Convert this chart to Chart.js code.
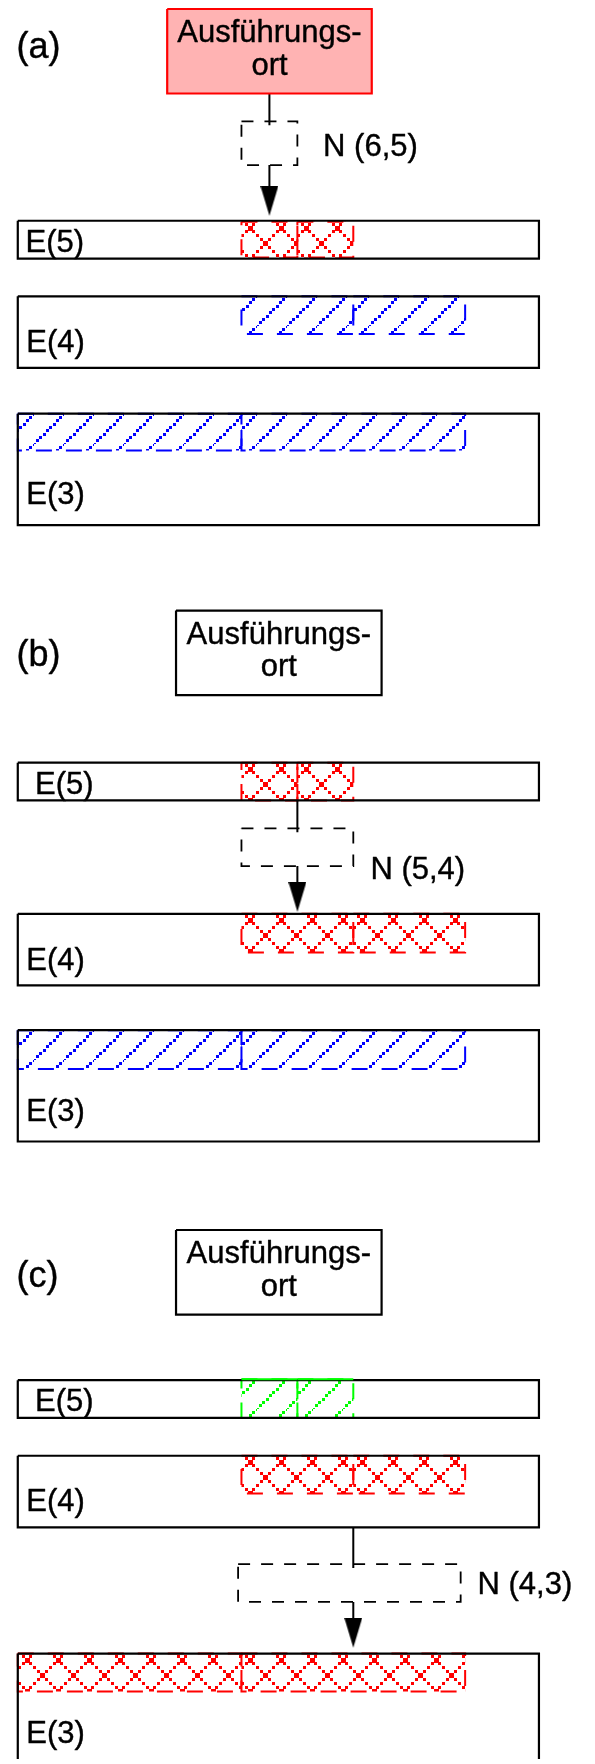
<!DOCTYPE html>
<html><head><meta charset="utf-8">
<script src="https://cdn.jsdelivr.net/npm/chart.js@4.4.1/dist/chart.umd.min.js"></script>
<style>html,body{margin:0;padding:0;background:#fff}canvas{display:block}</style>
</head><body>
<canvas id="c" width="595" height="1764" style="width:595px;height:1764px"></canvas>
<script>
// ---------- data (x in tile units of level E(4), y in figure units) ----------
const xDomain = [-0.1143, 5.1165];
const yDomain = [0, 1764];

const panelLabels = ['(a)', '(b)', '(c)'];
const panelLabelX = -0.012;
const panelLabelY = [53, 665, 1289];

const execLines = ['Ausführungs-', 'ort'];
const execBoxX = [[1.336, 3.165], [1.415, 3.253], [1.415, 3.253]];
const execBoxY = [[4, 89], [609, 694], [1232, 1317]];
const execActive = [true, false, false];

const levelNames = ['E(5)', 'E(4)', 'E(3)'];
const levelBoxX = [0, 4.66];
const levelBoxY = [
  [[217, 255], [293, 365], [411, 523]],
  [[762, 800], [914, 986], [1031, 1143]],
  [[1383, 1421], [1459, 1531], [1658, 1770]]
];
const levelLabelX = [[0.070, 0.076, 0.076], [0.155, 0.076, 0.076], [0.155, 0.076, 0.076]];
const levelLabelY = [[248, 349, 502], [793, 970, 1122], [1414, 1515, 1748]];

const levelTiles = [[[2, 2.5], [2.5, 3]], [[2, 3], [3, 4]], [[0, 2], [2, 4]]];
const hatchKind = [['cross', 'diag', 'diag'], ['cross', 'cross', 'diag'], ['diag', 'cross', 'cross']];
const hatchColor = [['red', 'blue', 'blue'], ['red', 'red', 'blue'], ['green', 'red', 'red']];
const hatchY = [
  [[218, 254], [293, 331], [411, 448]],
  [[762, 800], [914, 953], [1031, 1070]],
  [[1382, 1421], [1459, 1497], [1658, 1696]]
];
const hatchSolidTop = [[false, false, false], [false, false, false], [true, false, false]];

const transferLabels = ['N (6,5)', 'N (5,4)', 'N (4,3)'];
const transferBoxX = [[2, 2.5], [2, 3], [1.97, 3.96]];
const transferBoxY = [[117, 161], [828, 866], [1568, 1606]];
const transferAxis = [2.25, 2.5, 3.0];
const transferFromY = [89, 800, 1531];
const transferTipY = [212, 912, 1652];
const transferLabelX = [2.730, 3.153, 4.111];
const transferLabelY = [152, 879, 1598];

// ---------- styles ----------
const FONT = '"Liberation Sans", Arial, Helvetica, sans-serif';
const COL = { red: '#ff0000', blue: '#0000ff', green: '#00ff00', black: '#000000', pink: '#ffb3b3' };

function dot(g, x, y, s) { g.fillRect(Math.round(x - s / 2), Math.round(y - s / 2), s, s); }
const patternCanvases = {};
function patternCanvas(kind, color) {
  const key = kind + color;
  if (patternCanvases[key]) return patternCanvases[key];
  const P = kind === 'cross' ? 31 : 30;
  const c = document.createElement('canvas'); c.width = P; c.height = P;
  const g = c.getContext('2d'); g.fillStyle = COL[color];
  const n = kind === 'cross' ? 8 : 9;
  for (let i = 0; i <= n; i++) {
    const t = i * P / n;
    if (kind === 'cross') { dot(g, t, t, 3); dot(g, t, P - t, 3); }
    else dot(g, t, P - t, 3);
  }
  if (kind === 'cross') [[0, 0], [P, 0], [0, P], [P, P], [P / 2, P / 2]].forEach(([a, b]) => dot(g, a, b, 5));
  patternCanvases[key] = c;
  return c;
}
function tilePattern(kind, color, chart, x0, y0) {
  const pat = chart.ctx.createPattern(patternCanvas(kind, color), 'repeat');
  const sx = chart.scales && chart.scales.x, sy = chart.scales && chart.scales.y;
  if (sx && sy && pat.setTransform) {
    const off = kind === 'cross' ? [9, 6] : [16, 0];
    pat.setTransform(new DOMMatrix().translate(Math.round(sx.getPixelForValue(x0)) + off[0], Math.round(sy.getPixelForValue(y0)) + off[1]));
  }
  return pat;
}
const arrowCanvas = (() => {
  const c = document.createElement('canvas'); c.width = 18; c.height = 60;
  const g = c.getContext('2d'); g.fillStyle = '#000';
  g.beginPath(); g.moveTo(0, 0); g.lineTo(18, 0); g.lineTo(9, 30); g.closePath(); g.fill();
  return c;
})();

function rectPts(x0, x1, y0, y1) {
  return [{x: x0, y: y0}, {x: x1, y: y0}, {x: x1, y: y1}, {x: x0, y: y1}, {x: x0, y: y0}];
}

// ---------- datasets ----------
const datasets = [];
execBoxX.forEach((bx, p) => {
  datasets.push({
    data: rectPts(bx[0], bx[1], execBoxY[p][0], execBoxY[p][1]), showLine: true,
    borderColor: execActive[p] ? COL.red : COL.black, borderWidth: 2.2,
    backgroundColor: execActive[p] ? COL.pink : 'rgba(0,0,0,0)',
    fill: execActive[p] ? 'shape' : false, pointRadius: 0, order: 1
  });
});
levelBoxY.forEach((rows, p) => rows.forEach((r, l) => {
  datasets.push({
    data: rectPts(levelBoxX[0], levelBoxX[1], r[0], r[1]), showLine: true,
    borderColor: COL.black, borderWidth: 2.2, fill: false, pointRadius: 0, order: 1
  });
  levelTiles[l].forEach(t => {
    const kind = hatchKind[p][l], color = hatchColor[p][l], hy = hatchY[p][l];
    datasets.push({
      data: rectPts(t[0], t[1], hy[0], hy[1]), showLine: true,
      borderColor: COL[color], borderWidth: 2, borderDash: [16, 14],
      fill: 'shape', backgroundColor: (c) => tilePattern(kind, color, c.chart, t[0], hy[0]),
      pointRadius: 0, order: 3
    });
    if (hatchSolidTop[p][l]) {
      datasets.push({
        data: [{x: t[0], y: hy[0]}, {x: t[1], y: hy[0]}], showLine: true,
        borderColor: COL[color], borderWidth: 2, fill: false, pointRadius: 0, order: 0
      });
    }
  });
}));
transferBoxX.forEach((bx, p) => {
  const by = transferBoxY[p], ax = transferAxis[p];
  datasets.push({
    data: rectPts(bx[0], bx[1], by[0], by[1]), showLine: true,
    borderColor: COL.black, borderWidth: 1.8, borderDash: [12, 11], fill: false, pointRadius: 0, order: 1
  });
  datasets.push({
    data: [{x: ax, y: transferFromY[p]}, {x: ax, y: by[0] + 4}], showLine: true,
    borderColor: COL.black, borderWidth: 2, fill: false, pointRadius: 0, order: 1
  });
  datasets.push({
    data: [{x: ax, y: by[1]}, {x: ax, y: transferTipY[p] - 28}], showLine: true,
    borderColor: COL.black, borderWidth: 2, fill: false, pointRadius: 0, order: 1
  });
  datasets.push({
    data: [{x: ax, y: transferTipY[p]}], showLine: false,
    pointStyle: arrowCanvas, pointRadius: 1, order: 0
  });
});

// ---------- text plugin (positions through the chart scales) ----------
function boldText(ctx, t, px, py) { ctx.fillText(t, px, py); ctx.strokeText(t, px, py); }
const textPlugin = {
  id: 'diagramText',
  afterDatasetsDraw(chart) {
    const {ctx, scales: {x, y}} = chart;
    ctx.save();
    ctx.fillStyle = '#000';
    ctx.strokeStyle = '#000';
    ctx.lineWidth = 0.4;
    ctx.lineJoin = 'round';
    ctx.textBaseline = 'alphabetic';
    ctx.textAlign = 'left';
    ctx.font = '36px ' + FONT;
    panelLabels.forEach((t, p) => boldText(ctx, t, x.getPixelForValue(panelLabelX), y.getPixelForValue(panelLabelY[p])));
    ctx.font = '31px ' + FONT;
    levelNames.forEach((name, l) => panelLabels.forEach((_, p) => {
      boldText(ctx, name, x.getPixelForValue(levelLabelX[p][l]), y.getPixelForValue(levelLabelY[p][l]));
    }));
    transferLabels.forEach((t, p) => boldText(ctx, t, x.getPixelForValue(transferLabelX[p]), y.getPixelForValue(transferLabelY[p])));
    ctx.textAlign = 'center';
    execBoxX.forEach((bx, p) => {
      const cx = x.getPixelForValue((bx[0] + bx[1]) / 2);
      const top = execBoxY[p][0];
      boldText(ctx, execLines[0], cx, y.getPixelForValue(top + 33.5));
      boldText(ctx, execLines[1], cx, y.getPixelForValue(top + 66));
    });
    ctx.restore();
  }
};

new Chart(document.getElementById('c'), {
  type: 'scatter',
  data: { datasets },
  options: {
    responsive: false, animation: false, devicePixelRatio: 1, events: [],
    layout: { padding: 0 },
    elements: { point: { radius: 0 }, line: { tension: 0 } },
    plugins: { legend: { display: false }, tooltip: { enabled: false }, title: { display: false } },
    scales: {
      x: { type: 'linear', min: xDomain[0], max: xDomain[1], display: false },
      y: { type: 'linear', min: yDomain[0], max: yDomain[1], reverse: true, display: false }
    }
  },
  plugins: [textPlugin]
});
</script>
</body></html>
